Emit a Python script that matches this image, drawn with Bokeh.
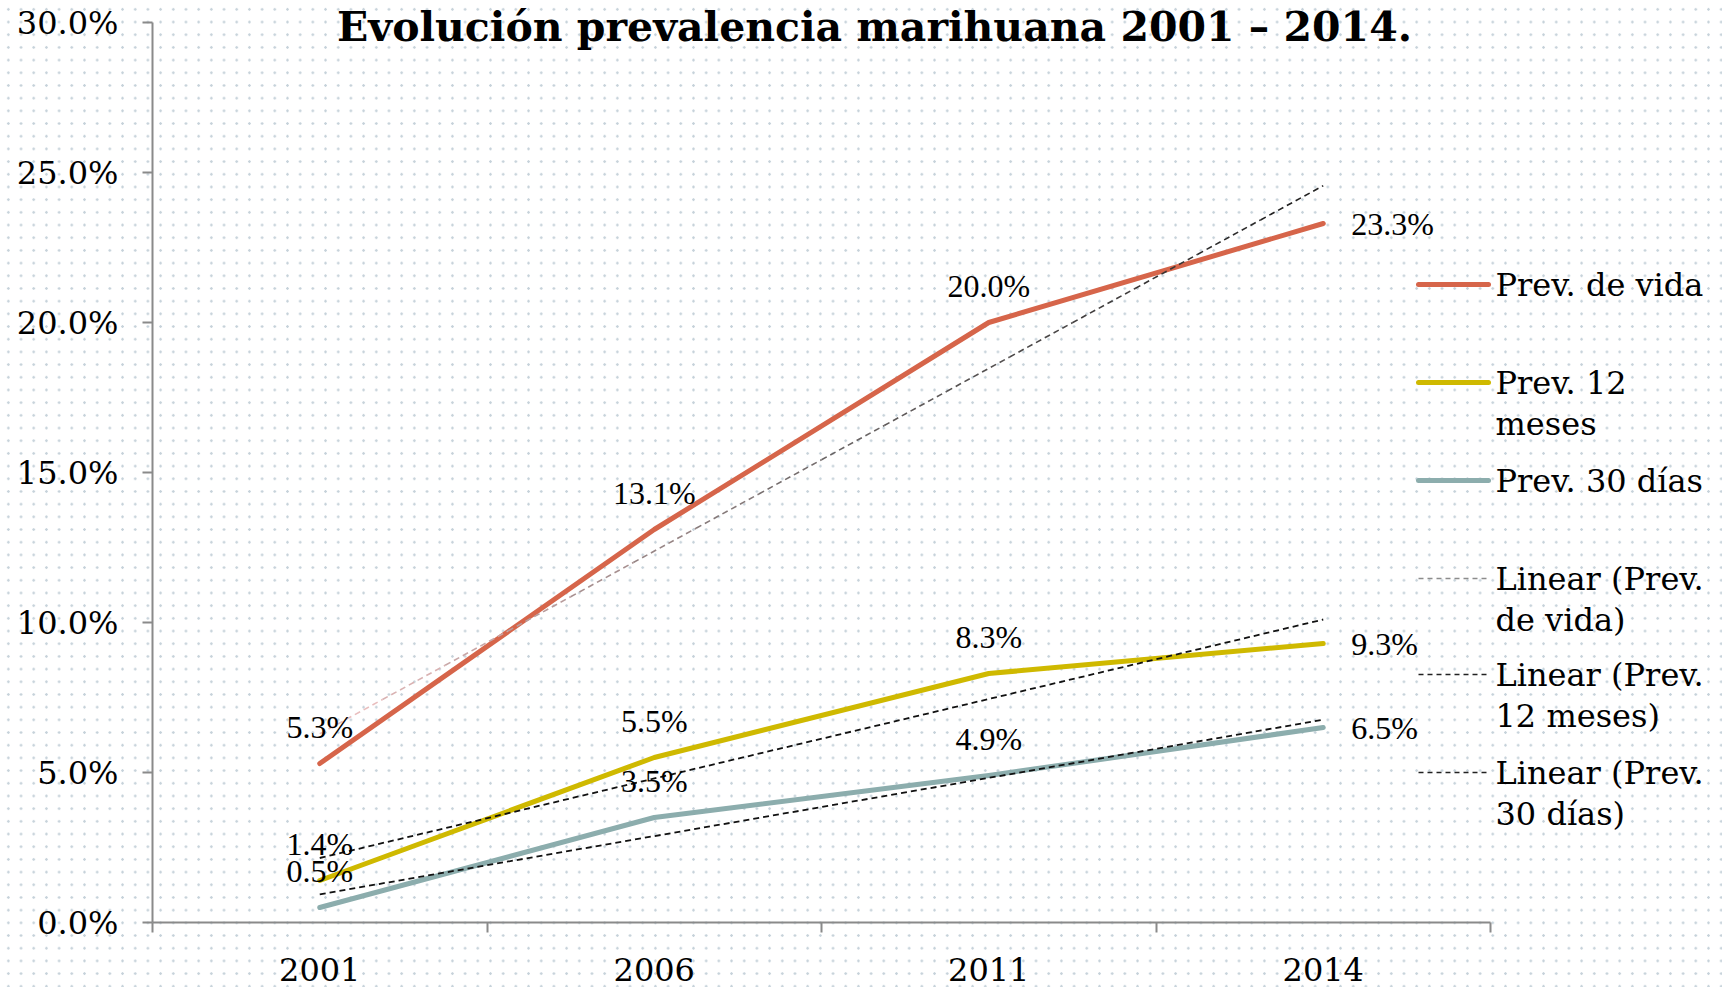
import numpy as np
from bokeh.plotting import figure
from bokeh.models import (ColumnDataSource, LabelSet, Label, FixedTicker,
                          PrintfTickFormatter, Range1d)
from bokeh.embed import file_html
from bokeh.resources import INLINE

# ---------------- data ----------------
years = ["2001", "2006", "2011", "2014"]
prev_vida = [5.3, 13.1, 20.0, 23.3]
prev_12m = [1.4, 5.5, 8.3, 9.3]
prev_30d = [0.5, 3.5, 4.9, 6.5]
series_names = ["Prev. de vida", "Prev. 12 meses", "Prev. 30 días"]
y_ticks = [0, 5, 10, 15, 20, 25, 30]
legend_labels = [["Prev. de vida"], ["Prev. 12", "meses"], ["Prev. 30 días"],
                 ["Linear (Prev.", "de vida)"], ["Linear (Prev.", "12 meses)"],
                 ["Linear (Prev.", "30 días)"]]
title_text = "Evolución prevalencia marihuana 2001 – 2014."

# ---------------- style ----------------
C_VIDA = "#d6654a"
C_12M = "#cfb900"
C_30D = "#8cadad"
AXIS_C = "#8a8a8a"
FONT = "DejaVu Serif"
FS = "32px"

W, H = 1722, 987
BL, BT, BB, BR = 152, 0, 65, 4
AX_TOP = 22          # screen y of the 30% tick
PX_X = 334.5         # px per category
PX_Y = 30.0          # px per percent point
x_end = (W - BL - BR) / PX_X
y_end = y_ticks[-1] + (AX_TOP - BT) / PX_Y

def sx(px):  # screen px -> data x (layout helper for legend/title)
    return (px - BL) / PX_X

def sy(py):  # screen px -> data y
    return (H - BB - py) / PX_Y

p = figure(width=W, height=H, output_backend="svg", toolbar_location=None,
           x_range=Range1d(0, x_end), y_range=Range1d(0, y_end),
           min_border_left=BL, min_border_right=BR, min_border_top=BT,
           min_border_bottom=BB)
p.background_fill_alpha = 0
p.border_fill_alpha = 0
p.outline_line_color = None
p.xgrid.visible = False
p.ygrid.visible = False
p.styles = {"background-color": "#ffffff",
            "background-image": "radial-gradient(circle, #c6d2da 1px, transparent 1.5px)",
            "background-size": "12.7px 12.7px",
            "background-position": "2px 3px"}

xs = [i + 0.5 for i in range(len(years))]

# y axis
ya = p.yaxis[0]
ya.bounds = (y_ticks[0], y_ticks[-1])
ya.ticker = FixedTicker(ticks=y_ticks, minor_ticks=[])
ya.formatter = PrintfTickFormatter(format="%.1f%%")
ya.axis_line_color = AXIS_C
ya.axis_line_width = 2
ya.major_tick_line_color = AXIS_C
ya.major_tick_line_width = 2
ya.major_tick_out = 10
ya.major_tick_in = 0
ya.major_label_standoff = 24
ya.major_label_text_font = FONT
ya.major_label_text_font_size = FS
ya.major_label_text_color = "#000000"

# x axis
xa = p.xaxis[0]
xa.bounds = (0, len(years))
xa.ticker = FixedTicker(ticks=xs, minor_ticks=list(range(len(years) + 1)))
xa.major_label_overrides = {x: y for x, y in zip(xs, years)}
xa.axis_line_color = AXIS_C
xa.axis_line_width = 2
xa.major_tick_out = 0
xa.major_tick_in = 0
xa.minor_tick_line_color = AXIS_C
xa.minor_tick_line_width = 2
xa.minor_tick_out = 10
xa.minor_tick_in = 0
xa.major_label_standoff = 25
xa.major_label_text_font = FONT
xa.major_label_text_font_size = FS
xa.major_label_text_color = "#000000"

# series lines
series = [prev_vida, prev_12m, prev_30d]
colors = [C_VIDA, C_12M, C_30D]
for vals, col, name in zip(series, colors, series_names):
    p.line(xs, vals, line_color=col, line_width=5, line_cap="round",
           line_join="round")

# linear trendlines (least squares, as Excel)
trend_ends = []
for vals in series:
    k, b = np.polyfit(np.arange(1, len(vals) + 1), vals, 1)
    trend_ends.append((b + k * 1, b + k * len(vals)))

# gradient-coloured trendline for vida
y0, y1 = trend_ends[0]
nseg = 16
c0 = np.array([242, 196, 196])
c1 = np.array([110, 105, 105])
c2 = np.array([30, 30, 30])
seg_x, seg_y, seg_c = [], [], []
for i in range(nseg):
    t0, t1 = i / nseg, (i + 1) / nseg
    tm = (t0 + t1) / 2
    if tm < 0.5:
        c = c0 + (c1 - c0) * (tm / 0.5)
    else:
        c = c1 + (c2 - c1) * ((tm - 0.5) / 0.5)
    seg_x.append([xs[0] + (xs[-1] - xs[0]) * t0, xs[0] + (xs[-1] - xs[0]) * t1])
    seg_y.append([y0 + (y1 - y0) * t0, y0 + (y1 - y0) * t1])
    seg_c.append("#%02x%02x%02x" % tuple(int(v) for v in c))
p.multi_line(seg_x, seg_y, line_color=seg_c, line_width=1.6, line_dash="6 4")

for (a, b_) in trend_ends[1:]:
    p.line([xs[0], xs[-1]], [a, b_], line_color="#111111", line_width=1.8,
           line_dash="6 4")

# data labels
above_x, above_y, above_t = [], [], []
right_x, right_y, right_t = [], [], []
for vals in series:
    for i, v in enumerate(vals):
        if i < len(vals) - 1:
            above_x.append(xs[i]); above_y.append(v); above_t.append(f"{v:.1f}%")
        else:
            right_x.append(xs[i]); right_y.append(v); right_t.append(f"{v:.1f}%")
src_a = ColumnDataSource(dict(x=above_x, y=above_y, t=above_t))
src_r = ColumnDataSource(dict(x=right_x, y=right_y, t=right_t))
p.add_layout(LabelSet(x="x", y="y", text="t", source=src_a, y_offset=37,
                      text_align="center", text_baseline="middle",
                      text_font=FONT, text_font_size=FS, text_color="#000000"))
p.add_layout(LabelSet(x="x", y="y", text="t", source=src_r, x_offset=28,
                      text_align="left", text_baseline="middle",
                      text_font=FONT, text_font_size=FS, text_color="#000000"))

# legend (manual, to keep Excel's wrapped entries)
legend_y = [284, 382, 480, 578, 674, 772]
leg_styles = [(C_VIDA, 5, "solid"), (C_12M, 5, "solid"), (C_30D, 5, "solid"),
              ("#8c8c8c", 1.5, "5 4"), ("#222222", 1.5, "5 4"), ("#222222", 1.5, "5 4")]
for ly, lines, (col, lw, dash) in zip(legend_y, legend_labels, leg_styles):
    p.line([sx(1418), sx(1488)], [sy(ly), sy(ly)], line_color=col, line_width=lw,
           line_dash=dash, line_cap="round" if dash == "solid" else "butt")
    for j, txt in enumerate(lines):
        p.add_layout(Label(x=sx(1495), y=sy(ly + 41 * j), text=txt,
                           text_align="left", text_baseline="alphabetic",
                           text_font=FONT, text_font_size=FS,
                           text_color="#000000"))

# title
p.add_layout(Label(x=sx(874), y=sy(26), text=title_text, text_align="center",
                   text_baseline="alphabetic", text_font=FONT,
                   text_font_style="bold", text_font_size="41px",
                   text_color="#000000"))

open("out.html", "w").write(file_html(p, INLINE))
